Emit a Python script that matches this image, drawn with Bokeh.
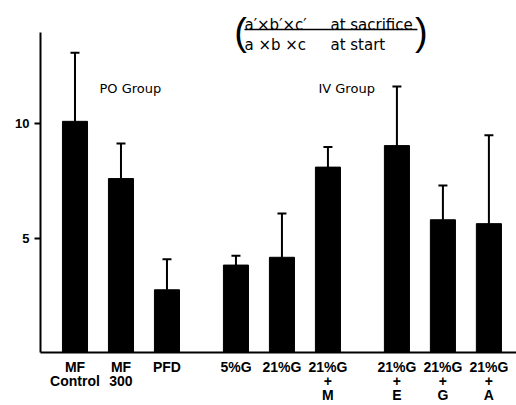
from bokeh.plotting import figure
from bokeh.models import ColumnDataSource, Whisker, TeeHead, FixedTicker, Range1d, Label
from bokeh.embed import file_html
from bokeh.resources import INLINE

# ---- data ----
categories = ["MF\nControl", "MF\n300", "PFD", "5%G", "21%G", "21%G\n+\nM",
              "21%G\n+\nE", "21%G\n+\nG", "21%G\n+\nA"]
group_index = [0, 0, 0, 1, 1, 1, 2, 2, 2]
means = [10.1, 7.6, 2.74, 3.82, 4.16, 8.1, 9.04, 5.8, 5.63]
upper = [13.1, 9.13, 4.07, 4.23, 6.07, 8.98, 11.62, 7.3, 9.49]
y_ticks = [5, 10]
group_names = ["PO Group", "IV Group"]

# positions: two units per bar, one extra unit between groups
xpos = [2 * i + g for i, g in enumerate(group_index)]

src = ColumnDataSource(dict(x=xpos, top=means, upper=upper))

FONT = "Liberation Sans"

p = figure(width=516, height=405, output_backend="svg", toolbar_location=None,
           x_range=Range1d(-1.5, 19.2), y_range=Range1d(0, 15.38),
           min_border_left=40, min_border_right=0, min_border_top=0, min_border_bottom=53)
p.outline_line_color = None
p.grid.visible = False
p.background_fill_color = "white"
p.border_fill_color = "white"

p.vbar(x="x", top="top", bottom=0, width=1.09, source=src, fill_color="black", line_color="black")

w = Whisker(source=src, base="x", lower="top", upper="upper", dimension="height",
            line_color="black", line_width=2,
            upper_head=TeeHead(size=9, line_width=2, line_color="black"), lower_head=None)
p.add_layout(w)

# y axis
ya = p.yaxis[0]
ya.ticker = FixedTicker(ticks=y_ticks)
ya.bounds = (0, 14.0)
ya.axis_line_width = 2
ya.major_tick_line_width = 2
ya.major_tick_out = 6
ya.major_tick_in = 0
ya.minor_tick_line_color = None
ya.major_label_text_font = FONT
ya.major_label_text_font_style = "bold"
ya.major_label_text_font_size = "13px"
ya.major_label_text_color = "black"
ya.major_label_standoff = 5

# x axis
xa = p.xaxis[0]
xa.ticker = FixedTicker(ticks=xpos)
xa.major_label_overrides = {x: c for x, c in zip(xpos, categories)}
xa.axis_line_width = 2
xa.major_tick_line_color = None
xa.minor_tick_line_color = None
xa.major_label_text_font = FONT
xa.major_label_text_font_style = "bold"
xa.major_label_text_font_size = "14px"
xa.major_label_text_line_height = 0.88
xa.major_label_text_color = "black"
xa.major_label_standoff = 0

# helpers: pixel -> data, for annotation placement
def dx(px):
    return (px - 74.5) / 23.0

def dy(py):
    return (352.0 - py) / 22.88

# group titles
for name, gx in zip(group_names, [99, 318]):
    p.add_layout(Label(x=dx(gx), y=dy(88), text=name, text_font="DejaVu Sans",
                       text_font_size="13px", text_color="black", text_baseline="alphabetic"))

# formula
TF = "DejaVu Sans"
for txt, px, py in [("a\u2032\u00d7b\u2032\u00d7c\u2032", 244, 25), ("at sacrifice", 330, 25),
                    ("a \u00d7b \u00d7c", 244, 45), ("at start", 330, 45)]:
    p.add_layout(Label(x=dx(px), y=dy(py), text=txt, text_font=TF, text_font_size="15px",
                       text_color="black", text_baseline="alphabetic"))
p.segment(x0=[dx(244)], y0=[dy(29)], x1=[dx(417)], y1=[dy(29)], line_color="black", line_width=1.5)
p.add_layout(Label(x=dx(240), y=dy(32), text="(", text_font=FONT, text_font_size="38px",
                   text_align="center", text_baseline="middle", text_color="black"))
p.add_layout(Label(x=dx(421), y=dy(32), text=")", text_font=FONT, text_font_size="38px",
                   text_align="center", text_baseline="middle", text_color="black"))

# fragment at left edge
p.add_layout(Label(x=dx(1), y=dy(357), text="G", text_font=FONT, text_font_style="bold",
                   text_font_size="10px", text_color="black", text_baseline="alphabetic"))

open("out.html", "w").write(file_html(p, INLINE))
